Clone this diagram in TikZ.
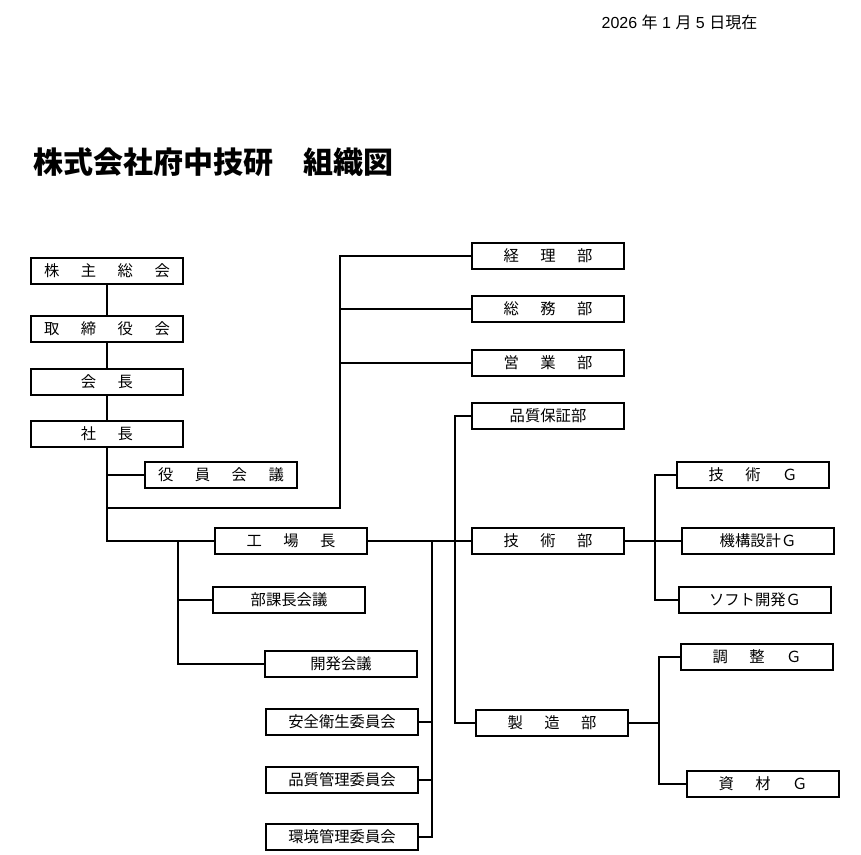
\documentclass[tikz,border=0pt]{standalone}
\usepackage{fontspec}
\setmainfont{Liberation Sans}
\newfontfamily\jp{Noto Sans CJK JP}
\newcommand\gap{\hspace{1.4em}}
\begin{document}
\begin{tikzpicture}[x=0.75pt,y=-0.75pt,
    box/.style={draw,thick,minimum width=114pt,minimum height=19.5pt,inner sep=0pt,font=\jp\fontsize{11.5}{11.5}\selectfont},
    line/.style={thick}]

  \useasboundingbox (0,0) rectangle (861,855);

  % Heading and date
  \node[anchor=west,font=\jp\bfseries\fontsize{22.5}{22.5}\selectfont] (title) at (29,162) {株式会社府中技研　組織図};
  \node[anchor=east,font=\fontsize{12}{12}\selectfont] (date) at (762,22) {2026 {\jp 年} 1 {\jp 月} 5 {\jp 日現在}};

  % Left column
  \node[box] (kabu)  at (107,271) {株\gap 主\gap 総\gap 会};
  \node[box] (tori)  at (107,329) {取\gap 締\gap 役\gap 会};
  \node[box] (kaicho) at (107,382) {会\gap 長};
  \node[box] (shacho) at (107,434) {社\gap 長};
  \node[box] (yakuin) at (221,475) {役\gap 員\gap 会\gap 議};

  % Departments
  \node[box] (keiri)  at (548,256) {経\gap 理\gap 部};
  \node[box] (somu)   at (548,309) {総\gap 務\gap 部};
  \node[box] (eigyo)  at (548,363) {営\gap 業\gap 部};
  \node[box] (hinsho) at (548,416) {品質保証部};
  \node[box] (gijutsu) at (548,541) {技\gap 術\gap 部};
  \node[box] (seizo)  at (552,723) {製\gap 造\gap 部};

  % Plant side
  \node[box] (kojo)   at (291,541) {工\gap 場\gap 長};
  \node[box] (buka)   at (289,600) {部課長会議};
  \node[box] (kaihatsu) at (341,664) {開発会議};
  \node[box] (anzen)  at (342,722) {安全衛生委員会};
  \node[box] (hinkan) at (342,780) {品質管理委員会};
  \node[box] (kankyo) at (342,837) {環境管理委員会};

  % Groups
  \node[box] (gijG)   at (753,475) {技\gap 術\gap Ｇ};
  \node[box] (kikoG)  at (758,541) {機構設計Ｇ};
  \node[box] (softG)  at (755,600) {ソフト開発Ｇ};
  \node[box] (choG)   at (757,657) {調\gap 整\gap Ｇ};
  \node[box] (shiG)   at (763,784) {資\gap 材\gap Ｇ};

  % Joints
  \coordinate (a) at (107,541);
  \coordinate (b) at (107,508);
  \coordinate (c) at (340,508);
  \coordinate (d) at (178,541);
  \coordinate (e) at (432,541);
  \coordinate (f) at (455,541);
  \coordinate (g) at (655,541);
  \coordinate (h) at (659,723);

  % Main trunk
  \draw[line] (kabu.south) -- (tori.north) (tori.south) -- (kaicho.north)
    (kaicho.south) -- (shacho.north) (shacho.south) -- (a) -- (kojo.west);
  \draw[line] (yakuin.west) -| (shacho.south);
  \draw[line] (b) -- (c) |- (keiri.west);
  \draw[line] (somu.west) -| (c) (eigyo.west) -| (c);

  % Plant manager branches
  \draw[line] (kojo.east) -- (gijutsu.west);
  \draw[line] (d) |- (kaihatsu.west) (buka.west) -| (d);
  \draw[line] (e) |- (kankyo.east) (anzen.east) -| (e) (hinkan.east) -| (e);
  \draw[line] (hinsho.west) -| (f) |- (seizo.west);

  % Groups
  \draw[line] (gijutsu.east) -- (kikoG.west);
  \draw[line] (gijG.west) -| (g) |- (softG.west);
  \draw[line] (seizo.east) -- (h) (choG.west) -| (h) |- (shiG.west);
\end{tikzpicture}
\end{document}
